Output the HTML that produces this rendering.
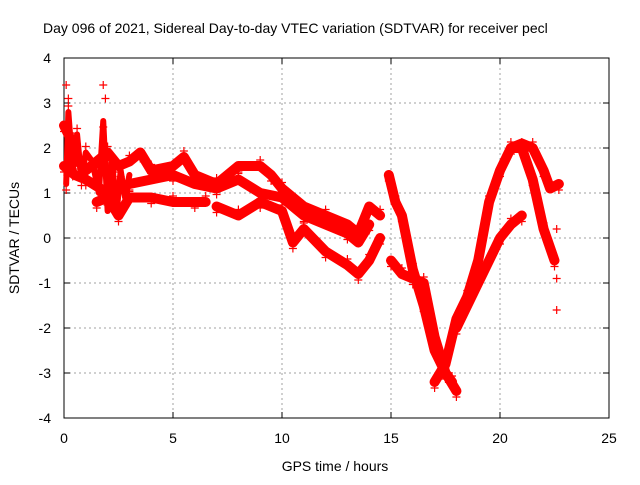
<!DOCTYPE html>
<html><head><meta charset="utf-8"><style>
body{margin:0;background:#fff;}
svg text{font-family:"Liberation Sans",sans-serif;font-size:14px;fill:#000;}
</style></head><body>
<svg id="chart" width="640" height="480">
<rect width="640" height="480" fill="#fff"/>
<g id="grid"></g><g id="axes"></g><g id="marks"></g>
<text x="43" y="33">Day 096 of 2021, Sidereal Day-to-day VTEC variation (SDTVAR) for receiver pecl</text>
<text x="335" y="471" text-anchor="middle">GPS time / hours</text>
<text x="19" y="238" text-anchor="middle" transform="rotate(-90 19 238)">SDTVAR / TECUs</text>
</svg>
<script>
const xTicks=[0,5,10,15,20,25];
const yTicks=[-4,-3,-2,-1,0,1,2,3,4];
const traceAx=[0,0.3,0.5,1,1.5,2,2.5,3,3.5,4,5,5.5,6,7,8,9,9.5,10,11,12,13,13.5,14,14.5];
const traceAy=[2.5,2.2,1.8,1.5,1.7,1.9,1.6,1.7,1.9,1.5,1.6,1.8,1.4,1.2,1.6,1.6,1.4,1.1,0.7,0.5,0.3,0.1,0.7,0.5];
const traceBx=[0,0.5,1,2,3,4,5,6,7,8,9,10,11,12,13,13.5,14];
const traceBy=[1.6,1.4,1.3,1.0,1.2,1.3,1.4,1.2,1.1,1.3,1.0,0.9,0.5,0.3,0.1,-0.1,0.3];
const traceCx=[1.5,2,2.5,3,4,5,6,6.5];
const traceCy=[0.8,0.9,0.5,0.9,0.9,0.8,0.8,0.8];
const traceDx=[7,8,9,10,10.5,11,12,13,13.5,14,14.5];
const traceDy=[0.7,0.5,0.8,0.6,-0.1,0.2,-0.3,-0.6,-0.8,-0.5,0];
const traceEx=[14.9,15.2,15.5,16,16.5,17,17.5,17.8];
const traceEy=[1.4,0.8,0.5,-0.7,-1.5,-2.5,-3.0,-3.2];
const traceFx=[17,17.5,18,18.5,19,19.5,20,20.5,21,21.5,22,22.3,22.7];
const traceFy=[-3.2,-2.8,-1.8,-1.3,-0.5,0.8,1.5,2.0,2.1,2.0,1.5,1.1,1.2];
const traceGx=[15,15.5,16,16.5,17,17.5,18];
const traceGy=[-0.5,-0.8,-0.9,-1.0,-2.2,-3.0,-3.4];
const traceHx=[18,19,20,20.5,21];
const traceHy=[-2.0,-1.0,0.0,0.3,0.5];
const traceIx=[20.5,21,21.5,22,22.5];
const traceIy=[2.0,2.0,1.3,0.2,-0.5];
const traceJx=[0.1,0.2,0.4,0.6,0.8,1.0,1.3,1.6,1.8,2.0,2.2,2.4,2.6,2.8,3.0];
const traceJy=[1.2,2.8,1.5,2.3,1.3,1.9,1.7,1.0,2.6,0.6,1.8,0.5,1.5,0.9,1.4];
const spikeX=[0.1,0.2,1.8,1.9,22.6,22.6,22.6];
const spikeY=[3.4,3.1,3.4,3.1,-0.9,-1.6,0.2];
const X=v=>64+v*21.8, Y=v=>238-v*45;
const NS="http://www.w3.org/2000/svg";
function mk(t,a,p){const e=document.createElementNS(NS,t);for(const k in a)e.setAttribute(k,a[k]);p.appendChild(e);return e;}
const grid=document.getElementById('grid'),axes=document.getElementById('axes'),marks=document.getElementById('marks');
xTicks.forEach(t=>{
 if(t>0&&t<25){const l=mk('line',{x1:X(t),x2:X(t),y1:58,y2:418,stroke:'#a0a0a0','stroke-dasharray':'2,3'},grid);
 
 }
 const tx=mk('text',{x:X(t),y:443,'text-anchor':'middle'},axes);tx.textContent=t;
 
 
 mk('line',{x1:X(t),x2:X(t),y1:418,y2:412,stroke:'#000'},axes);
 mk('line',{x1:X(t),x2:X(t),y1:58,y2:64,stroke:'#000'},axes);
});
yTicks.forEach(t=>{
 if(t>-4&&t<4){const l=mk('line',{x1:64,x2:609,y1:Y(t),y2:Y(t),stroke:'#a0a0a0','stroke-dasharray':'2,3'},grid);
 
 }
 const tx=mk('text',{x:51,y:Y(t)+5,'text-anchor':'end'},axes);tx.textContent=t;
 
 
 mk('line',{x1:64,x2:70,y1:Y(t),y2:Y(t),stroke:'#000'},axes);
 mk('line',{x1:609,x2:603,y1:Y(t),y2:Y(t),stroke:'#000'},axes);
});
const fr=mk('rect',{x:64,y:58,width:545,height:360,fill:'none',stroke:'#000'},axes);


const traces=[[traceAx,traceAy],[traceBx,traceBy],[traceCx,traceCy],[traceDx,traceDy],[traceEx,traceEy],[traceFx,traceFy],[traceGx,traceGy],[traceHx,traceHy],[traceIx,traceIy],[traceJx,traceJy]];
function plus(x,y){const p=mk('path',{d:`M${x-4},${y}h8M${x},${y-4}v8`,stroke:'#f00','stroke-width':1.2},marks);
 
 }
traces.forEach((tr,i)=>{
 const pts=tr[0].map((x,j)=>X(x)+','+Y(tr[1][j])).join(' ');
 const pl=mk('polyline',{points:pts,fill:'none',stroke:'#f00','stroke-width':i==9?6:10,'stroke-linejoin':'round','stroke-linecap':'round'},marks);
 
 
 tr[0].forEach((x,j)=>plus(X(x),Y(tr[1][j])+(j%2?-6:6)));
});
spikeX.forEach((x,i)=>plus(X(x),Y(spikeY[i])));
</script>
</body></html>
